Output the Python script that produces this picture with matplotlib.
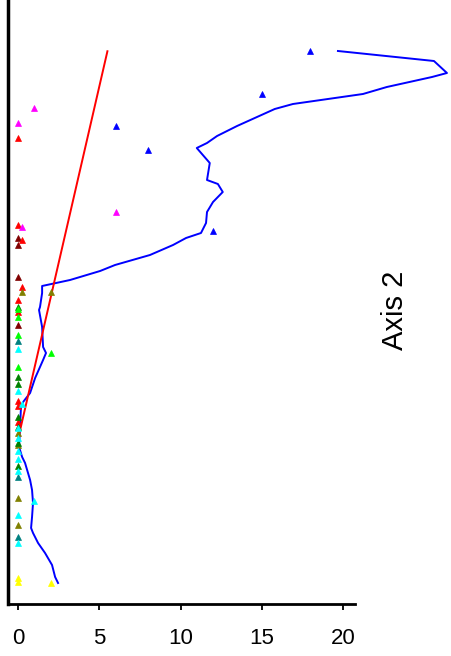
import matplotlib
matplotlib.use("Agg")
import matplotlib.pyplot as plt
import numpy as np

plt.rcParams['font.family'] = ['Liberation Sans', 'DejaVu Sans']

# Site scores grouped by colour class: (x, y) pairs
groups = {
    "#800000": ([0, 0, 0, 0], [32.7, 36.6, 35.9, 27.9]),
    "#ff0000": ([0.25, 0, 0, 0, 0, 0, 0, 0, 0.25],
                [31.7, 30.4, 29.2, 20.3, 19.8, 18.2, 46.6, 37.9, 36.4]),
    "#808000": ([0.25, 2, 0, 0, 0, 0], [31.2, 31.2, 17.1, 15.9, 10.6, 7.9]),
    "#008000": ([0, 0, 0, 0, 0, 0, 0], [29.7, 22.7, 22.0, 18.7, 17.7, 16.1, 13.8]),
    "#00ff00": ([0, 0, 0, 2, 0], [29.5, 28.7, 26.9, 25.1, 23.7]),
    "#008080": ([0, 0, 0], [26.3, 12.7, 6.7]),
    "#00ffff": ([0, 0, 0.25, 0, 0, 0, 0, 0, 1, 0, 0],
                [25.5, 21.3, 20.0, 17.6, 16.6, 15.3, 14.5, 13.3, 10.3, 8.9, 6.1]),
    "#ffff00": ([0, 0, 2], [2.6, 2.2, 2.1]),
    "#ff00ff": ([1, 0, 0.25, 6], [49.6, 48.1, 37.7, 39.2]),
    "#0000ff": ([18, 15, 6, 8, 12], [55.3, 51.0, 47.8, 45.4, 37.3]),
}

# Smoothed response curve
curve_x = [19.69, 25.6, 26.4, 25.48, 22.7, 21.23, 16.92, 15.8, 13.48, 12.25, 11.63,
           11.0, 11.8, 11.63, 12.3, 12.6, 12.0, 11.63, 11.57, 11.26, 10.34, 9.54,
           8.12, 5.97, 5.05, 3.2, 1.48, 1.48, 1.35, 1.29, 1.48, 1.54, 1.72, 1.54,
           1.05, 0.74, 0.31, 0.18, 0.12, 0.06, 0.25, 0.43, 0.74, 0.86, 0.92, 0.86,
           0.8, 0.92, 1.23, 1.66, 2.09, 2.28, 2.46]
curve_y = [55.3, 54.3, 53.1, 52.7, 51.7, 51.0, 50.0, 49.5, 47.8, 46.8, 46.1,
           45.6, 44.1, 42.4, 42.0, 41.2, 40.2, 39.2, 38.1, 37.1, 36.6, 35.9,
           34.9, 33.9, 33.3, 32.4, 31.8, 31.1, 29.7, 29.4, 27.7, 25.7, 25.1, 24.4,
           22.6, 21.1, 20.2, 19.7, 17.7, 15.7, 14.7, 14.1, 12.4, 11.4, 10.1, 8.7,
           7.6, 7.1, 6.1, 5.1, 3.9, 2.7, 2.1]

# Fitted linear trend
fit_intercept = 16.5
fit_slope = 7.05
fit_x = [0, 5.5]

xticks = [0, 5, 10, 15, 20]

fig = plt.figure(figsize=(4.52, 6.56), dpi=100)
ax = fig.add_axes([0.0177, 0.0793, 0.7677, 0.9207])

for color, (xs, ys) in groups.items():
    ax.plot(xs, ys, linestyle="none", marker="^", markersize=4.5,
            color=color, markeredgewidth=0.5, clip_on=False, zorder=3)

ax.plot(curve_x, curve_y, color="#0000ff", linewidth=1.4, clip_on=False, zorder=2)

fx = np.array(fit_x)
ax.plot(fx, fit_intercept + fit_slope * fx, color="#ff0000", linewidth=1.4,
        clip_on=False, zorder=2)

ax.set_xlim(-0.62, 20.74)
ax.set_ylim(0, 60.4)
ax.set_xticks(xticks)
ax.set_xticklabels([str(t) for t in xticks], fontsize=16)
ax.set_yticks([])
ax.tick_params(axis="x", length=4.5, width=1.3, pad=13, direction="out")

for side in ["top", "right"]:
    ax.spines[side].set_visible(False)
ax.spines["left"].set_linewidth(2.5)
ax.spines["bottom"].set_linewidth(2.0)

fig.text(0.873, 0.527, "Axis 2", rotation=90, fontsize=21,
         ha="center", va="center")

fig.savefig("out.png", dpi=100)
